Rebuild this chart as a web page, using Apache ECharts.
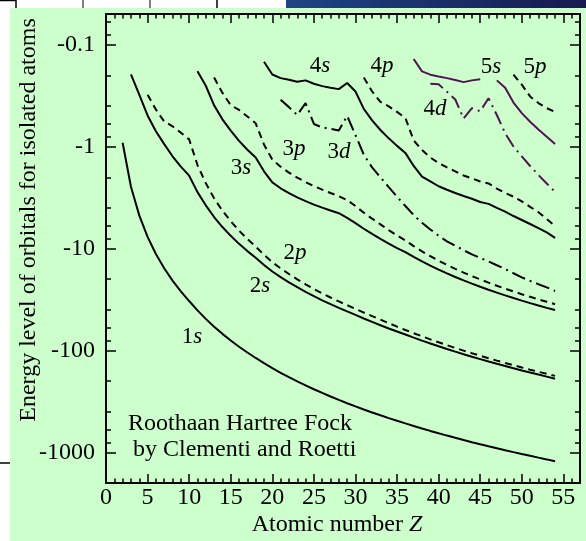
<!DOCTYPE html>
<html><head><meta charset="utf-8">
<script src="https://cdn.jsdelivr.net/npm/echarts@6/dist/echarts.min.js"></script>
<style>html,body{margin:0;padding:0;background:#fff}#c{width:586px;height:541px}</style>
</head><body><div id="c"></div>
<script>
// ---------- DATA (orbital energies |E| in hartree) ----------
const Z_TICKS = [0,5,10,15,20,25,30,35,40,45,50,55];
const Z_MINOR = [1,2,3,4,6,7,8,9,11,12,13,14,16,17,18,19,21,22,23,24,26,27,28,29,31,32,33,34,36,37,38,39,41,42,43,44,46,47,48,49,51,52,53,54,56];
const E_TICKS = [0.1,1,10,100,1000];
const E_MINOR = [0.06,0.08,0.2,0.4,0.6,0.8,2,4,6,8,20,40,60,80,200,400,600,800];

const s1_start = 2;
const s1 = [0.918,2.478,4.733,7.695,11.33,15.63,20.67,26.38,32.77,40.48,49.03,58.50,68.81,79.97,92.00,104.88,118.61,133.53,149.36,165.89,183.25,201.42,220.43,240.53,261.37,283.13,305.87,329.79,354.01,379.62,406.07,433.28,461.31,490.18,520.17,551.4,583.5,616.5,650.4,685.2,720.9,757.5,795.0,833.4,872.7,912.9,954.0,996.0,1039.0,1082.9,1127.7,1173.4,1224.4];
const s2_start = 3;
const s2 = [0.196,0.309,0.495,0.706,0.945,1.244,1.573,1.930,2.797,3.768,4.911,6.156,7.511,9.004,10.608,12.322,14.49,16.82,19.08,21.46,23.97,26.60,29.37,32.24,35.20,38.26,41.45,44.85,48.6,52.5,56.6,60.9,65.3,69.9,74.9,80.1,85.5,91.0,96.8,102.8,108.9,115.2,121.7,128.5,135.4,142.4,149.7,157.2,164.9,172.7,180.7,189.3];
const p2_start = 5;
const p2 = [0.310,0.433,0.567,0.632,0.730,0.850,1.518,2.282,3.219,4.257,5.401,6.683,8.072,9.571,11.52,13.63,15.65,17.80,20.07,22.45,24.95,27.55,30.26,33.08,36.0,39.1,42.5,46.1,49.9,54.0,58.4,63.0,67.8,72.7,77.9,83.2,88.8,94.5,100.4,106.5,112.8,119.3,125.9,132.8,139.8,147.1,154.5,162.1,169.9,177.8];
const s3_start = 11;
const s3 = [0.182,0.253,0.394,0.540,0.696,0.880,1.073,1.277,1.749,2.245,2.566,2.863,3.151,3.43,3.708,3.971,4.236,4.504,5.0,5.64,6.4,7.2,8.05,8.95,9.9,10.85,12.10,13.40,14.74,16.13,17.56,19.04,20.56,22.13,23.74,25.40,27.10,28.85,30.64,32.48,34.36,36.29,38.26,40.18];
const p3_start = 13;
const p3 = [0.210,0.297,0.392,0.437,0.506,0.591,0.955,1.341,1.574,1.799,2.017,2.23,2.438,2.647,2.855,3.064,3.35,3.83,4.45,5.1,5.8,6.6,7.45,8.33,9.48,10.67,11.90,13.17,14.48,15.83,17.22,18.65,20.12,21.63,23.18,24.77,26.40,28.07,29.78,31.53,33.32,35.22];
const d3_start = 21;
const d3 = [0.348,0.41,0.49,0.374,0.60,0.649,0.67,0.695,0.50,0.77,1.2,1.6,2.0,2.5,3.1,3.83,4.7,5.6,6.5,7.5,8.5,9.4,10.4,11.4,12.4,13.4,14.6,15.9,17.5,19.2,20.8,22.4,24.1,26.1];
const s4_start = 19;
const s4 = [0.147,0.196,0.213,0.221,0.231,0.224,0.242,0.255,0.265,0.273,0.238,0.288,0.426,0.553,0.687,0.830,0.984,1.153,1.55,1.97,2.2,2.45,2.65,2.85,3.05,3.25,3.5,3.65,4.0,4.35,4.8,5.25,5.75,6.3,6.95,7.86];
const p4_start = 31;
const p4 = [0.210,0.288,0.364,0.403,0.457,0.524,0.87,1.08,1.28,1.45,1.6,1.75,1.92,2.05,2.2,2.3,2.58,2.85,3.1,3.45,3.9,4.4,5.15,6.01];
const d4_start = 39;
const d4 = [0.242,0.245,0.29,0.345,0.53,0.42,0.45,0.335,0.49,0.74,1.0,1.25,1.55,1.9,2.3,2.78];
const s5_start = 37;
const s5 = [0.138,0.183,0.197,0.205,0.213,0.222,0.233,0.224,0.218,null,0.224,0.265,0.37,0.47,0.57,0.68,0.80,0.944];
const p5_start = 49;
const p5 = [0.197,0.247,0.322,0.374,0.42,0.457];

// ---------- STYLE ----------
const FF = '"Liberation Serif","Times New Roman",serif';
const BLACK = '#000000', PURPLE = '#521352';
const SOLID = 'solid', DASH = [7,5], DASHDOT = [14,5,2,5];

function toPoints(z0, vals){ return vals.map((v,i)=>[z0+i, v==null?'-':v]); }
function lineSeries(name, z0, vals, type, color){
  return {type:'line', name, data: toPoints(z0, vals), symbol:'none', showSymbol:false,
    connectNulls:false, silent:true, z:3, xAxisIndex:0, yAxisIndex:0,
    lineStyle:{width:2, color, type}};
}

function xAx(pos, ticks, len, labels, line){
  return {type:'value', gridIndex:0, position:pos, min:0, max:57,
    axisLine:{show:line, onZero:false, lineStyle:{color:BLACK, width:2}},
    axisTick:{show:true, inside:true, length:len, customValues:ticks, lineStyle:{color:BLACK, width:1.5}},
    axisLabel:{show:labels, customValues:Z_TICKS, margin:3, color:BLACK, fontFamily:FF, fontSize:24},
    splitLine:{show:false}};
}
function yAx(pos, ticks, len, labels, line){
  return {type:'log', logBase:10, inverse:true, gridIndex:0, position:pos, min:0.05, max:2000,
    axisLine:{show:line, onZero:false, lineStyle:{color:BLACK, width:2}},
    axisTick:{show:true, inside:true, length:len, customValues:ticks, lineStyle:{color:BLACK, width:1.5}},
    axisLabel:{show:labels, customValues:E_TICKS, margin:11, color:BLACK, fontFamily:FF, fontSize:24,
      formatter:v=>'-'+v},
    splitLine:{show:false}};
}

function orbLabel(txt, x, y){
  return {type:'text', x, y, silent:true, z:5, style:{
    text:'{n|'+txt[0]+'}{i|'+txt[1]+'}', fill:BLACK, fontFamily:FF, fontSize:23,
    align:'center', verticalAlign:'middle', textAlign:'center', textVerticalAlign:'middle',
    rich:{n:{fontFamily:FF, fontSize:23, fontStyle:'normal', fill:BLACK},
          i:{fontFamily:FF, fontSize:23, fontStyle:'italic', fill:BLACK}}}};
}
function plainText(txt, x, y, align, rot){
  return {type:'text', x, y, rotation:rot||0, silent:true, z:5, style:{
    text:txt, fill:BLACK, fontFamily:FF, fontSize:24,
    align, verticalAlign:'middle', textAlign:align, textVerticalAlign:'middle'}};
}

const chart = echarts.init(document.getElementById('c'), null, {renderer:'canvas'});
chart.setOption({
  animation:false,
  backgroundColor:'#ffffff',
  grid:{left:106, right:6, top:14, bottom:58, containLabel:false, outerBoundsMode:'none'},
  xAxis:[ xAx('bottom', Z_TICKS, 9, true, true), xAx('top', Z_TICKS, 9, false, true),
          xAx('bottom', Z_MINOR, 4.5, false, false), xAx('top', Z_MINOR, 4.5, false, false) ],
  yAxis:[ yAx('left', E_TICKS, 10, true, true), yAx('right', E_TICKS, 10, false, true),
          yAx('left', E_MINOR, 5, false, false), yAx('right', E_MINOR, 5, false, false) ],
  series:[
    lineSeries('1s', s1_start, s1, SOLID, BLACK),
    lineSeries('2s', s2_start, s2, SOLID, BLACK),
    lineSeries('2p', p2_start, p2, DASH, BLACK),
    lineSeries('3s', s3_start, s3, SOLID, BLACK),
    lineSeries('3p', p3_start, p3, DASH, BLACK),
    lineSeries('3d', d3_start, d3, DASHDOT, BLACK),
    lineSeries('4s', s4_start, s4, SOLID, BLACK),
    lineSeries('4p', p4_start, p4, DASH, BLACK),
    lineSeries('4d', d4_start, d4, DASHDOT, PURPLE),
    lineSeries('5s', s5_start, s5, SOLID, PURPLE),
    lineSeries('5p', p5_start, p5, DASH, BLACK)
  ],
  graphic:[
    {type:'rect', silent:true, z:-100, shape:{x:10, y:8, width:576, height:533}, style:{fill:'#ccffcc'}},
    {type:'rect', silent:true, z:-99, shape:{x:286, y:0, width:300, height:8},
      style:{fill:new echarts.graphic.LinearGradient(0,0,1,0,[{offset:0,color:'#1e4584'},{offset:1,color:'#161a4e'}])}},
    {type:'line', silent:true, z:-99, shape:{x1:0,y1:0.5,x2:16,y2:0.5}, style:{stroke:BLACK, lineWidth:1.5}},
    {type:'line', silent:true, z:-99, shape:{x1:16,y1:0,x2:16,y2:8}, style:{stroke:BLACK, lineWidth:1.5}},
    {type:'line', silent:true, z:-99, shape:{x1:83,y1:0,x2:83,y2:8}, style:{stroke:BLACK, lineWidth:1}},
    {type:'line', silent:true, z:-99, shape:{x1:150,y1:0,x2:150,y2:8}, style:{stroke:BLACK, lineWidth:1}},
    {type:'line', silent:true, z:-99, shape:{x1:217,y1:0,x2:217,y2:8}, style:{stroke:BLACK, lineWidth:1.5}},
    {type:'line', silent:true, z:-99, shape:{x1:0,y1:463,x2:10,y2:463}, style:{stroke:BLACK, lineWidth:1.5}},
    orbLabel('1s', 192, 337), orbLabel('2s', 260, 286), orbLabel('2p', 295, 253),
    orbLabel('3s', 241, 168), orbLabel('3p', 294, 149), orbLabel('3d', 339, 152),
    orbLabel('4s', 320, 66), orbLabel('4p', 382, 66), orbLabel('4d', 435, 109),
    orbLabel('5s', 491, 67), orbLabel('5p', 535, 67),
    plainText('Roothaan Hartree Fock', 128, 424, 'left'),
    plainText('by Clementi and Roetti', 133, 450, 'left'),
    plainText('Energy level of orbitals for isolated atoms', 29, 220, 'center', Math.PI/2),
    {type:'text', x:337, y:525, silent:true, z:5, style:{
      text:'{n|Atomic number }{i|Z}', fill:BLACK, fontFamily:FF, fontSize:24,
      align:'center', verticalAlign:'middle', textAlign:'center', textVerticalAlign:'middle',
      rich:{n:{fontFamily:FF, fontSize:24, fontStyle:'normal', fill:BLACK},
            i:{fontFamily:FF, fontSize:24, fontStyle:'italic', fill:BLACK}}}}
  ]
});
</script></body></html>
